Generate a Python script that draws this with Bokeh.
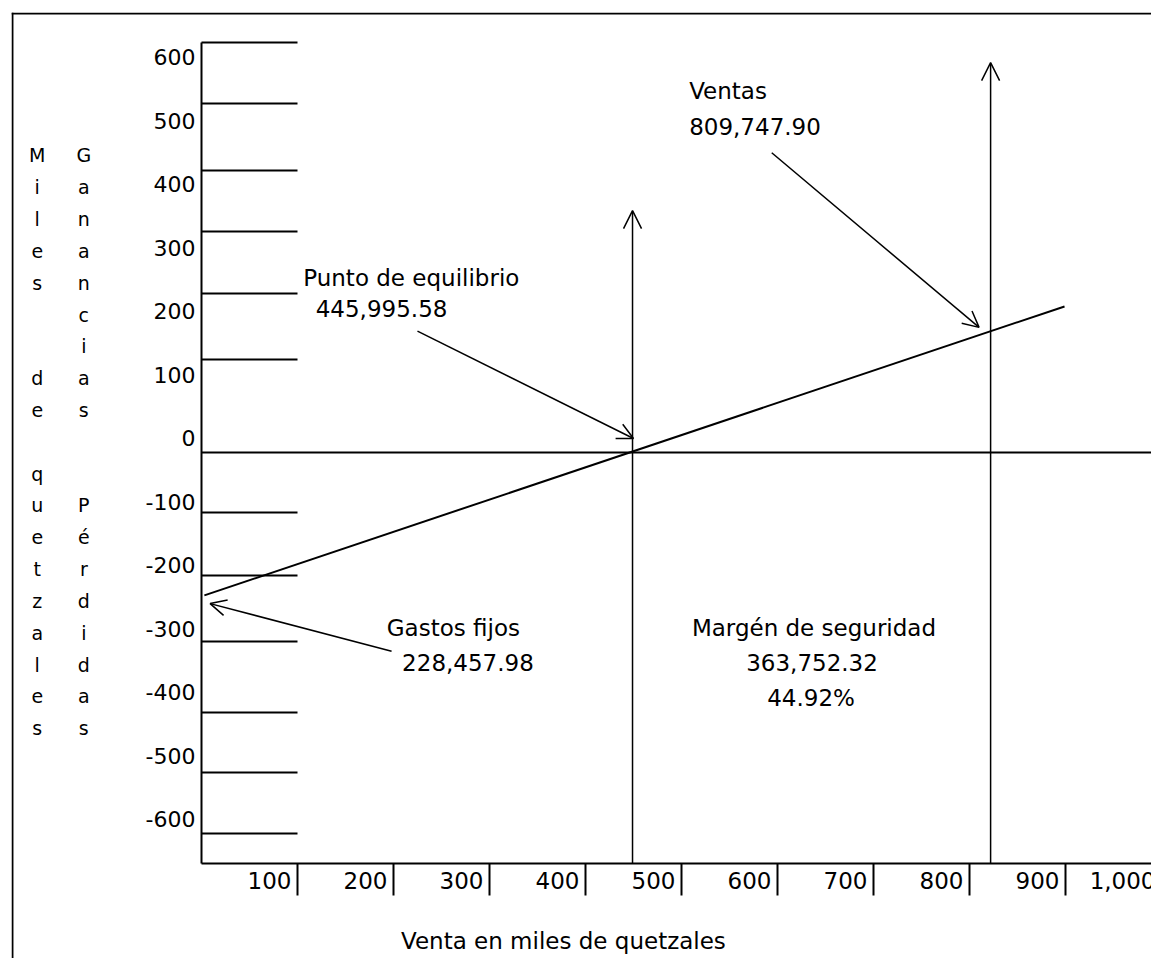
from bokeh.plotting import figure
from bokeh.models import (Range1d, LinearAxis, FixedTicker, Arrow, OpenHead,
                          Span, ColumnDataSource)
from bokeh.core.properties import value
from bokeh.embed import file_html
from bokeh.resources import INLINE

# ---------------- data (miles de quetzales) ----------------
ventas = 809747.90
punto_equilibrio = 445995.58
gastos_fijos = 228457.98
margen_seguridad = 363752.32
margen_pct = 44.92

x_ticks = [100, 200, 300, 400, 500, 600, 700, 800, 900, 1000]
x_tick_labels = [f"{v:,}" for v in x_ticks]
y_labels = [600, 500, 400, 300, 200, 100, 0, -100, -200, -300, -400, -500, -600]
y_label_text = [str(v) for v in y_labels]
# levels of the drawn horizontal tick lines
y_tick_lines = [645, 549, 444, 348, 251, 146, -95, -194, -297, -409, -504, -600]

# positions (miles)
x_equilibrio = 449          # vertical line of the break-even point
x_ventas = 822              # vertical line of sales
utilidad_x = [3, 899]       # profit line
utilidad_y = [-225, 230]
eje_x = -648                # level of the horizontal axis
tope_equilibrio = 381       # top of the break-even arrow
tope_ventas = 614           # top of the sales arrow

# ---------------- figure ----------------
W, H = 1151, 958
x_range = Range1d(-197.9, 989.6)
y_range = Range1d(-796.9, 692.9)

p = figure(width=W, height=H, x_range=x_range, y_range=y_range,
           x_axis_location=None, y_axis_location=None,
           toolbar_location=None, output_backend="svg",
           min_border=0, min_border_left=11, min_border_top=12,
           min_border_right=0, min_border_bottom=0)
p.outline_line_color = None
p.grid.visible = False
p.background_fill_color = "white"
p.border_fill_color = "white"

# outer box (left and top edges visible in the picture)
p.add_layout(Span(location=x_range.start + 1.0, dimension="height",
                  line_color="black", line_width=2))
p.add_layout(Span(location=y_range.end - 1.6, dimension="width",
                  line_color="black", line_width=2))

FONT = value("DejaVu Sans")

# vertical axis with inward tick lines
yaxis = LinearAxis(fixed_location=0, bounds=(eje_x, y_tick_lines[0]),
                   ticker=FixedTicker(ticks=y_tick_lines),
                   major_tick_in=96, major_tick_out=0,
                   minor_tick_in=0, minor_tick_out=0,
                   axis_line_width=2, axis_line_color="black",
                   major_tick_line_width=2, major_tick_line_color="black",
                   major_label_text_color=None)
p.add_layout(yaxis, "left")

# horizontal axis with outward tick marks
xaxis = LinearAxis(fixed_location=eje_x, bounds=(0, x_range.end),
                   ticker=FixedTicker(ticks=x_ticks),
                   major_tick_in=0, major_tick_out=32,
                   minor_tick_in=0, minor_tick_out=0,
                   axis_line_width=2, axis_line_color="black",
                   major_tick_line_width=2, major_tick_line_color="black",
                   major_label_text_color=None)
p.add_layout(xaxis, "below")

# zero (break-even) horizontal line
p.line(x=[0, x_range.end], y=[0, 0], line_color="black", line_width=2)

# profit line
p.line(x=utilidad_x, y=utilidad_y, line_color="black", line_width=2)


def texto(x, y, t, size="23px", align="left", **kw):
    src = ColumnDataSource(dict(x=x, y=y, t=t))
    p.text(x="x", y="y", text="t", source=src, text_font=FONT,
           text_font_size=size, text_align=align, text_baseline="middle",
           text_color="black", **kw)


# tick labels
texto(x_ticks, [eje_x] * len(x_ticks), x_tick_labels, size="23px",
      align="right", x_offset=-6, y_offset=17)
texto([0] * len(y_labels), y_labels, y_label_text, size="22px",
      align="right", x_offset=-6, y_offset=-14)

# vertical axis titles, one letter per line
col1 = ["M", "i", "l", "e", "s", "", "", "d", "e", "", "q", "u", "e", "t",
        "z", "a", "l", "e", "s"]
col2 = ["G", "a", "n", "a", "n", "c", "i", "a", "s", "", "", "P", "é", "r",
        "d", "i", "d", "a", "s"]
step = 50.1
y_top = 467.7
texto([-171.1] * len(col1), [y_top - i * step for i in range(len(col1))],
      col1, size="19px", align="center")
texto([-122.6] * len(col2), [y_top - i * step for i in range(len(col2))],
      col2, size="19px", align="center")

# vertical arrows
for xv, top in [(x_equilibrio, tope_equilibrio), (x_ventas, tope_ventas)]:
    p.add_layout(Arrow(end=OpenHead(size=18, line_width=1.5, line_color="black"),
                       x_start=xv, y_start=eje_x, x_end=xv, y_end=top,
                       line_width=1.5, line_color="black"))

# pointer arrows
for x0, y0, x1, y1 in [(594, 472, 810, 197),
                       (225, 191, 450, 22),
                       (198, -313, 9, -238)]:
    p.add_layout(Arrow(end=OpenHead(size=16, line_width=1.5, line_color="black"),
                       x_start=x0, y_start=y0, x_end=x1, y_end=y1,
                       line_width=1.5, line_color="black"))

# annotations
texto([508], [570], ["Ventas"])
texto([508], [513], [f"{ventas:,.2f}"])
texto([106], [274], ["Punto de equilibrio"])
texto([119], [227], [f"{punto_equilibrio:,.2f}"])
texto([193], [-277], ["Gastos fijos"])
texto([209], [-331], [f"{gastos_fijos:,.2f}"])
texto([638], [-277], ["Margén de seguridad"], align="center")
texto([636], [-331], [f"{margen_seguridad:,.2f}"], align="center")
texto([635], [-387], [f"{margen_pct:.2f}%"], align="center")
texto([377], [-770], ["Venta en miles de quetzales"], align="center")

open("out.html", "w").write(file_html(p, INLINE))
